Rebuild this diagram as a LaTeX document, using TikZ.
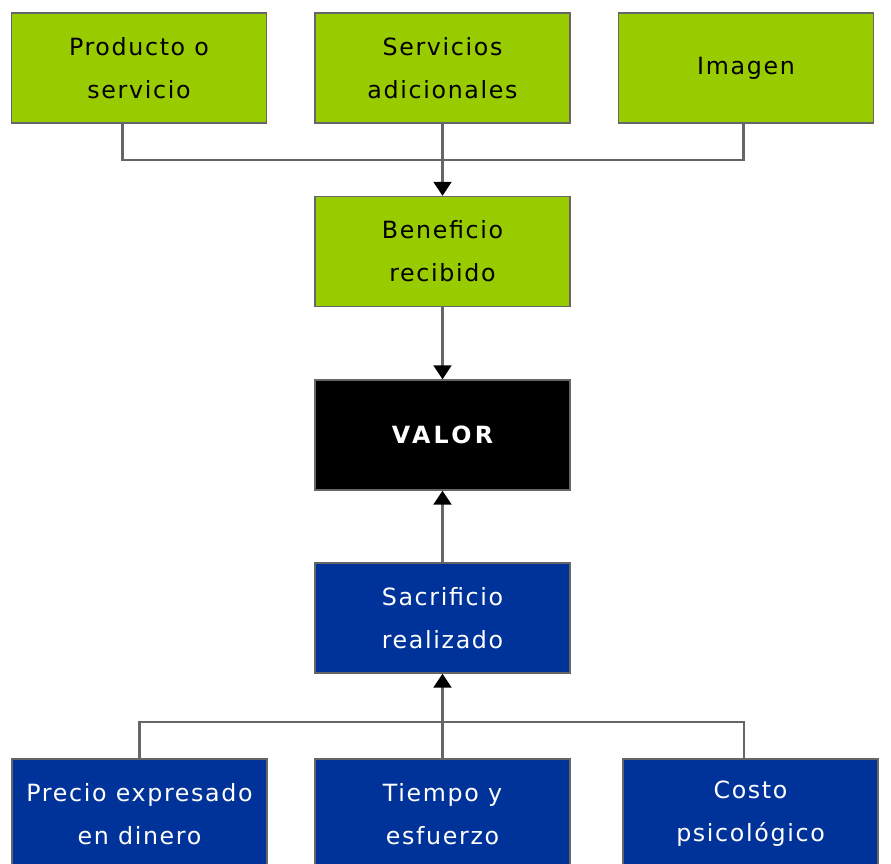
\documentclass[tikz,border=0pt]{standalone}
\usepackage{fontspec}
\usepackage{tikz}
\usetikzlibrary{calc,arrows.meta}
\newfontfamily\boxfont[LetterSpace=7]{DejaVu Sans}
\definecolor{lima}{HTML}{99CC00}
\definecolor{azul}{HTML}{003399}
\definecolor{borde}{HTML}{666666}
\tikzstyle{caja}=[draw=borde,%
                  line width=0.8pt,%
                  rectangle,%
                  align=center,%
                  minimum width  = 5.1cm,%
                  minimum height = 2.2cm,%
                  font=\boxfont\fontsize{13.5}{24.5}\selectfont,%
                  node distance = 3.67cm]
\tikzstyle{verde}=[caja,fill=lima,text=black]
\tikzstyle{azulbox}=[caja,fill=azul,text=white]
\tikzstyle{valorbox}=[caja,fill=black,text=white,font=\boxfont\bfseries\addfontfeature{LetterSpace=14}\fontsize{13.5}{24.5}\selectfont]
\tikzstyle{linea}=[draw=borde,line width=1.2pt]
\tikzstyle{flecha}=[linea,-{Triangle[width=0.36cm,length=0.28cm,color=black]}]

\begin{document}
\begin{tikzpicture}
  \clip (0,0) rectangle (17.82,-17.26);
            \node[valorbox] (valor) at (8.85,-8.70) {VALOR};
            \node[verde][above of=valor] (benef) {Beneficio\\recibido};
            \node[verde][above of=benef] (serv) {Servicios\\adicionales};
            \node[verde][left of=serv, node distance=6.07cm] (prod) {Producto o\\servicio};
            \node[verde][right of=serv, node distance=6.07cm] (imag) {Imagen};
            \node[azulbox][below of=valor, node distance=3.66cm] (sacrif) {Sacrificio\\realizado};
            \node[azulbox][below of=sacrif, node distance=3.92cm] (tiempo) {Tiempo y\\esfuerzo};
            \node[azulbox][left of=tiempo, node distance=6.06cm] (precio) {Precio expresado\\en dinero};
            \node[azulbox][right of=tiempo, node distance=6.16cm] (costo) {Costo\\psicológico};
            \coordinate (arriba) at ($(serv.south)!0.5!(benef.north)$);
            \coordinate (abajo) at ($(sacrif.south)!0.57!(tiempo.north)$);
            \draw [linea] ([xshift=-0.33cm]prod.south) |- (arriba);
            \draw [linea] ([xshift=-0.05cm]imag.south) |- (arriba);
            \draw [flecha] (serv.south) -- (benef.north);
            \draw [flecha] (benef.south) -- (valor.north);
            \draw [flecha] (sacrif.north) -- (valor.south);
            \draw [linea] (precio.north) |- (abajo);
            \draw [linea] ([xshift=-0.13cm]costo.north) |- (abajo);
            \draw [flecha] (tiempo.north) -- (sacrif.south);
  \end{tikzpicture}
\end{document}
